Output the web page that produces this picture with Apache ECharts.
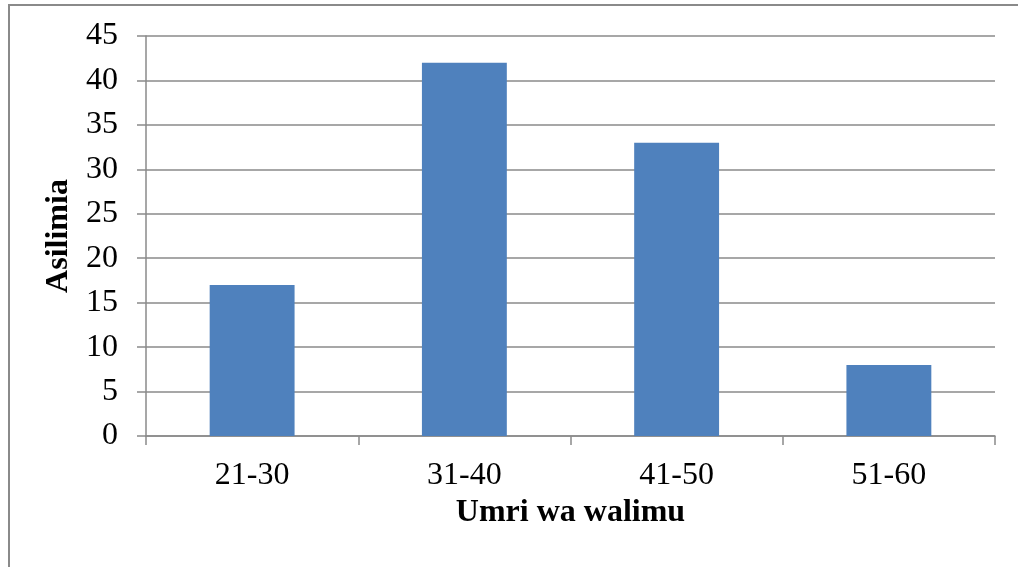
<!DOCTYPE html>
<html><head><meta charset="utf-8">
<script src="https://cdn.jsdelivr.net/npm/echarts@6/dist/echarts.min.js"></script>
<style>html,body{margin:0;padding:0;background:#fff}#c{width:1018px;height:567px}</style>
</head><body><div id="c"></div>
<script>
var categories = ['21-30', '31-40', '41-50', '51-60'];
var values = [17, 42, 33, 8];
var yTicks = [0, 5, 10, 15, 20, 25, 30, 35, 40, 45];
var chart = echarts.init(document.getElementById('c'));
var font = '"Liberation Serif", "Times New Roman", serif';
var gray = '#8a8a8a';
chart.setOption({
  animation: false,
  graphic: [{type: 'rect', shape: {x: 9, y: 5, width: 1030, height: 600}, style: {fill: 'none', stroke: gray, lineWidth: 2}}],
  grid: {left: 146, right: 23, top: 36, bottom: 131},
  xAxis: {
    type: 'category', data: categories,
    axisLine: {lineStyle: {color: gray, width: 1.5}},
    axisTick: {show: true, length: 9, lineStyle: {color: gray, width: 1.5}},
    axisLabel: {color: '#000', fontSize: 32, fontFamily: font, margin: 24},
    name: 'Umri wa walimu', nameLocation: 'middle', nameGap: 52,
    nameTextStyle: {color: '#000', fontSize: 32, fontWeight: 'bold', fontFamily: font}
  },
  yAxis: {
    type: 'value', min: yTicks[0], max: yTicks[yTicks.length - 1], interval: 5,
    axisLine: {show: true, lineStyle: {color: gray, width: 1.5}},
    axisTick: {show: true, length: 9, lineStyle: {color: gray, width: 1.5}},
    splitLine: {lineStyle: {color: gray, width: 1.5}},
    axisLabel: {color: '#000', fontSize: 32, fontFamily: font, margin: 28},
    name: 'Asilimia', nameLocation: 'middle', nameGap: 69, nameRotate: 90,
    nameTextStyle: {color: '#000', fontSize: 32, fontWeight: 'bold', fontFamily: font}
  },
  series: [{type: 'bar', data: values, barWidth: '40%', itemStyle: {color: '#4F81BD'}}]
});
</script></body></html>
